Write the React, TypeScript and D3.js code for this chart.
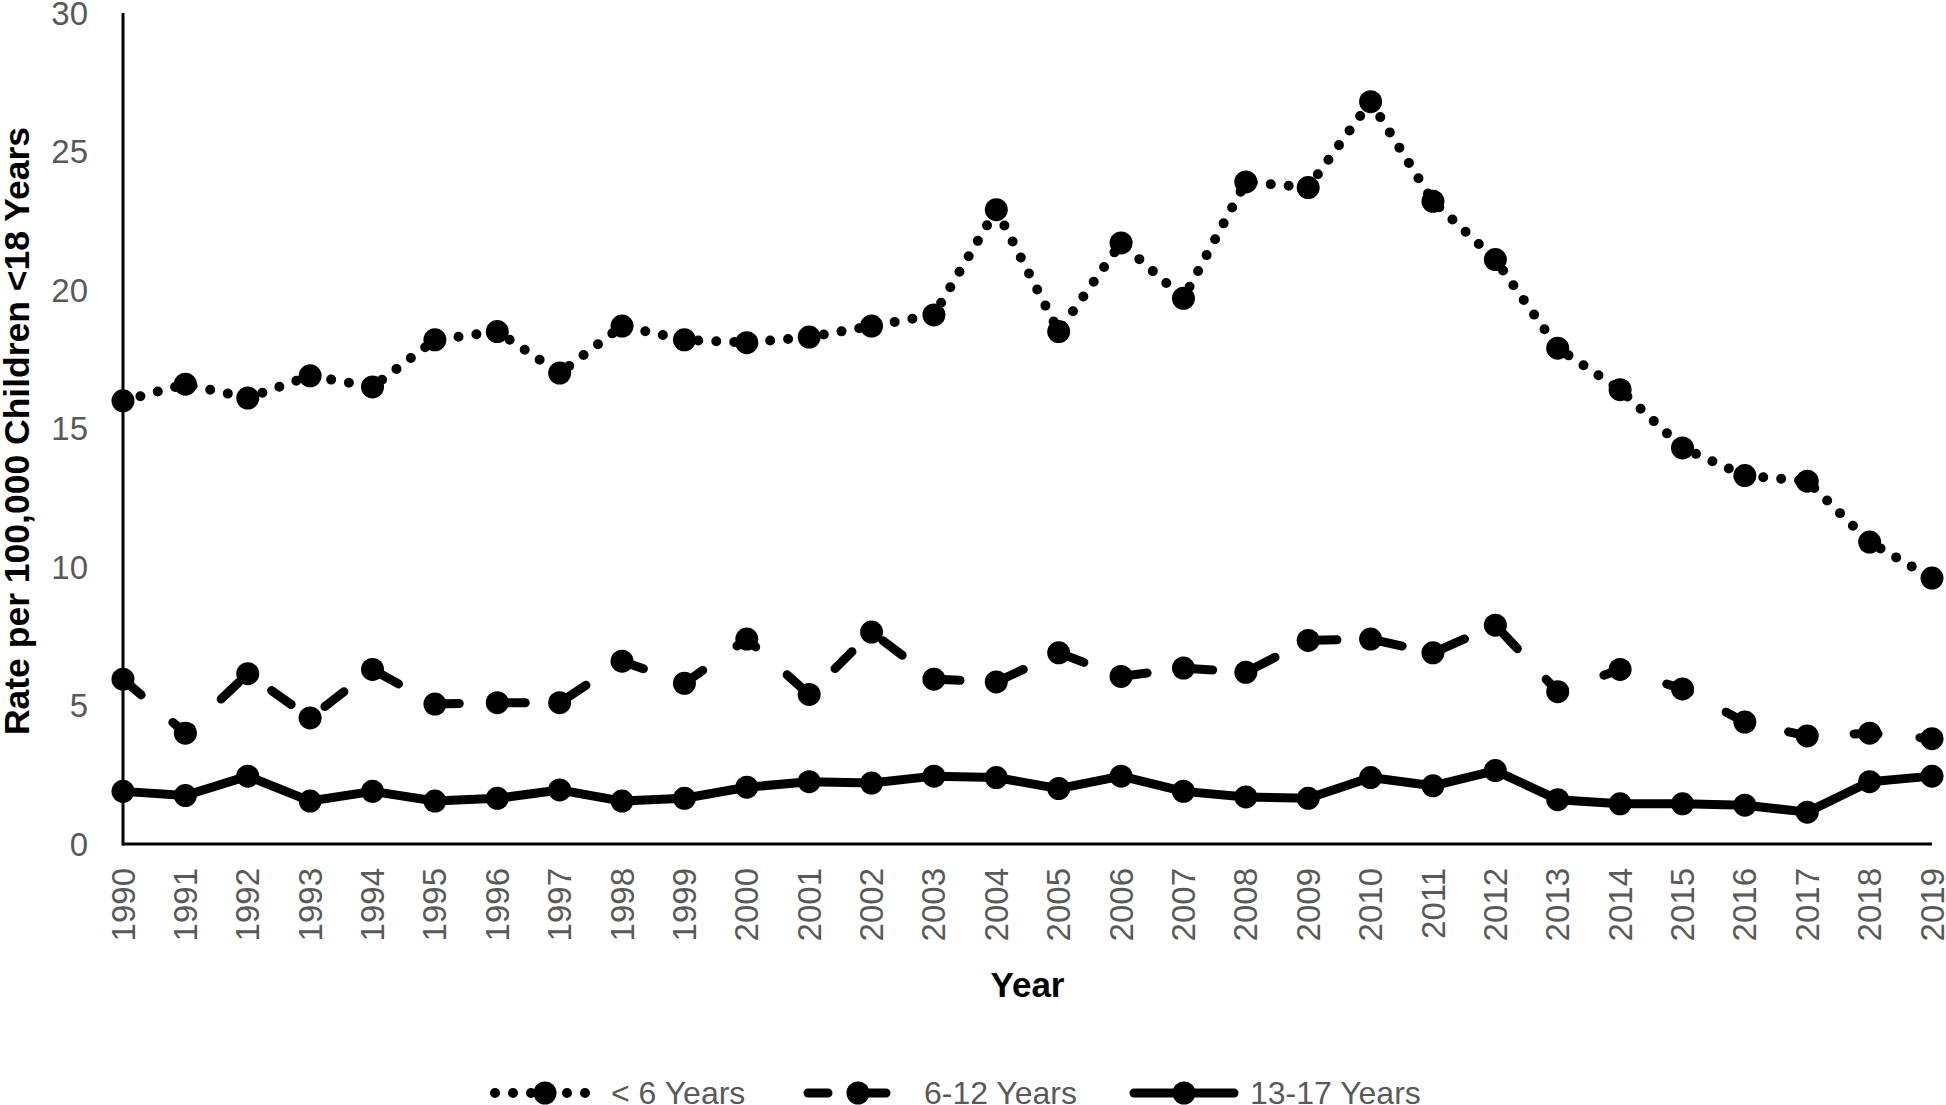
import React from 'react';
import { scaleLinear, line } from 'd3';

// data
const years = [1990, 1991, 1992, 1993, 1994, 1995, 1996, 1997, 1998, 1999, 2000, 2001, 2002, 2003, 2004,
  2005, 2006, 2007, 2008, 2009, 2010, 2011, 2012, 2013, 2014, 2015, 2016, 2017, 2018, 2019];
const under6 = [16.0, 16.6, 16.1, 16.9, 16.5, 18.2, 18.5, 17.0, 18.7, 18.2, 18.1, 18.3, 18.7, 19.1, 22.9,
  18.5, 21.7, 19.7, 23.9, 23.7, 26.8, 23.2, 21.1, 17.9, 16.4, 14.3, 13.3, 13.1, 10.9, 9.6];
const age6to12 = [5.95, 4.0, 6.15, 4.55, 6.3, 5.05, 5.1, 5.1, 6.6, 5.8, 7.4, 5.4, 7.65, 5.95, 5.85,
  6.9, 6.05, 6.35, 6.2, 7.35, 7.4, 6.9, 7.9, 5.5, 6.3, 5.6, 4.4, 3.9, 4.0, 3.8];
const age13to17 = [1.9, 1.75, 2.45, 1.55, 1.9, 1.55, 1.65, 1.95, 1.55, 1.65, 2.05, 2.25, 2.2, 2.45, 2.4,
  2.0, 2.45, 1.9, 1.7, 1.65, 2.4, 2.1, 2.65, 1.6, 1.45, 1.45, 1.4, 1.15, 2.25, 2.45];
const seriesNames = ['< 6 Years', '6-12 Years', '13-17 Years'];
const yTicks = [0, 5, 10, 15, 20, 25, 30];

const App = () => {
  const width = 1946;
  const height = 1105;
  const left = 123;
  const right = 1932;
  const top = 13;
  const bottom = 844;

  const font = '"Liberation Sans", Arial, sans-serif';
  const grey = '#595959';
  const markerR = 11.5;

  const xScale = scaleLinear().domain([1990, 2019]).range([left, right]);
  const yScale = scaleLinear().domain([0, 30]).range([bottom, top]);

  /* line styles per series : dotted, dashed, solid */
  const styles = [
    { width: 10, dash: '0 18' },
    { width: 9, dash: '24 42' },
    { width: 9, dash: undefined },
  ];
  const allSeries = [under6, age6to12, age13to17];

  const path = line<number>()
    .x((d, i) => xScale(years[i]))
    .y((d) => yScale(d));

  // legend sample centers
  const legendX = [545, 858, 1184];
  const legendY = 1093;

  return (
    <svg width={width} height={height} style={{ position: 'absolute', left: 0, top: 0, background: '#fff' }}>
      {/* Y AXIS TICKS */}
      {yTicks.map((t) => (
        <text key={t} x={88} y={yScale(t)} dy="0.35em" textAnchor="end" fill={grey}
          style={{ fontFamily: font, fontSize: 33 }}>
          {t}
        </text>
      ))}

      {/* X AXIS TICKS, rotated */}
      {years.map((yr) => (
        <text key={yr} transform={`translate(${xScale(yr)},868) rotate(-90)`} dy="0.35em" textAnchor="end"
          fill={grey} style={{ fontFamily: font, fontSize: 33 }}>
          {yr}
        </text>
      ))}

      {/* axis titles */}
      <text transform={`translate(29,431) rotate(-90)`} textAnchor="middle" fill="#000"
        style={{ fontFamily: font, fontSize: 35.5, fontWeight: 700 }}>
        Rate per 100,000 Children &lt;18 Years
      </text>
      <text x={(left + right) / 2} y={997} textAnchor="middle" fill="#000"
        style={{ fontFamily: font, fontSize: 35, fontWeight: 700 }}>
        Year
      </text>

      {/* series */}
      {allSeries.map((s, si) => (
        <g key={si}>
          <path d={path(s) || ''} fill="none" stroke="#000" strokeWidth={styles[si].width}
            strokeDasharray={styles[si].dash} strokeLinecap="round" strokeLinejoin="round" />
          {s.map((v, i) => (
            <circle key={i} cx={xScale(years[i])} cy={yScale(v)} r={markerR} fill="#000" />
          ))}
        </g>
      ))}

      {/* axes lines */}
      <line x1={left} y1={top} x2={left} y2={bottom + 1.5} stroke="#000" strokeWidth={3} />
      <line x1={left} y1={bottom} x2={right} y2={bottom} stroke="#000" strokeWidth={3} />

      {/* LEGEND */}
      {seriesNames.map((name, si) => (
        <g key={name}>
          <line x1={legendX[si] - 50} x2={legendX[si] + 50} y1={legendY} y2={legendY} stroke="#000"
            strokeWidth={styles[si].width} strokeDasharray={si === 1 ? '20 38' : styles[si].dash}
            strokeLinecap="round" />
          <circle cx={legendX[si]} cy={legendY} r={markerR} fill="#000" />
          <text x={legendX[si] + 66} y={legendY} dy="0.35em" fill={grey}
            style={{ fontFamily: font, fontSize: 32 }}>
            {name}
          </text>
        </g>
      ))}
    </svg>
  );
};

export default App;
